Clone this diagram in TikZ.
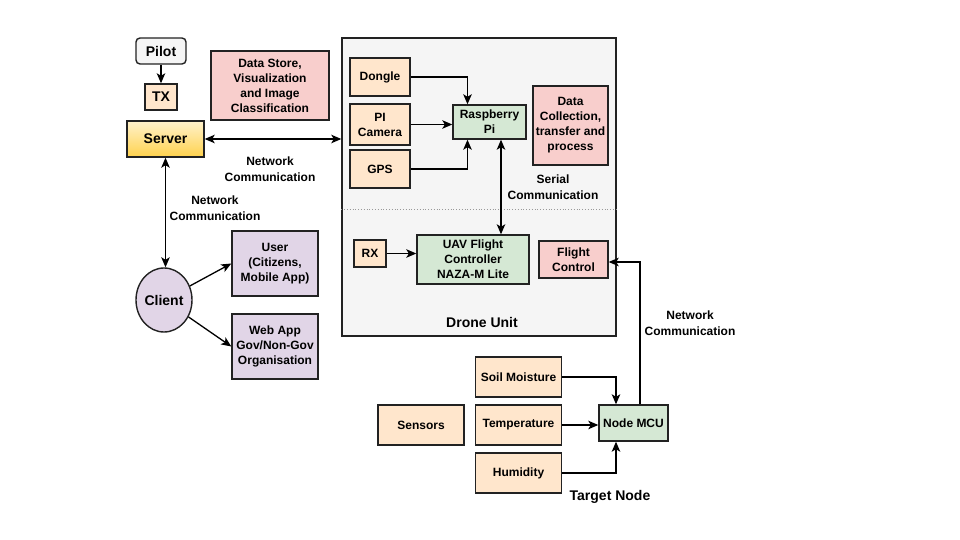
\documentclass[tikz,border=0pt]{standalone}
\usepackage{fontspec}
\setmainfont{Liberation Sans}
\usetikzlibrary{arrows,arrows.meta,shapes,calc}
\definecolor{peach}{HTML}{FFE6CC}
\definecolor{rose}{HTML}{F8CECC}
\definecolor{mint}{HTML}{D5E8D4}
\definecolor{lilac}{HTML}{E1D5E7}
\definecolor{paper}{HTML}{F5F5F5}
\definecolor{cream}{HTML}{FFF2CC}
\definecolor{butter}{HTML}{FFD24D}
\definecolor{ink}{HTML}{222222}
\tikzstyle{block}=[draw=ink,line width=1.4pt,align=center,inner sep=1pt,font=\fontsize{12}{15}\selectfont\bfseries]
\tikzstyle{bigblock}=[block,font=\fontsize{14}{16}\selectfont\bfseries]
\tikzstyle{part}=[block,fill=peach]
\tikzstyle{task}=[block,fill=rose]
\tikzstyle{board}=[block,fill=mint]
\tikzstyle{party}=[block,fill=lilac]
\tikzstyle{edge}=[draw,line width=1.3pt,-{Stealth[length=10pt,width=8.5pt,inset=2.5pt]}]
\tikzstyle{twoway}=[draw,line width=1.3pt,{Stealth[length=10pt,width=8.5pt,inset=2.5pt]}-{Stealth[length=10pt,width=8.5pt,inset=2.5pt]}]
\tikzstyle{note}=[align=center,font=\fontsize{12}{16}\selectfont\bfseries]

\begin{document}
\begin{tikzpicture}[x=1pt,y=-1pt,auto]
    \useasboundingbox (0,0) rectangle (960,540);
    % Drone unit frame and its divider
    \node[draw=ink,fill=paper,line width=1.4pt,minimum width=274pt,minimum height=298pt,inner sep=0pt] (drone) at (479,187) {};
    \draw[black!40,dotted,line width=0.8pt] (drone.west |- 0,209) -- (drone.east |- 0,209);
    \node[note,font=\fontsize{14}{16}\selectfont\bfseries] (droneunit) at (482,322) {Drone Unit};

    % Ground side
    \node[bigblock,fill=paper,rounded corners=4pt,minimum width=50pt,minimum height=26pt] (Pilot) at (161,51) {Pilot};
    \node[bigblock,fill=peach,minimum width=32pt,minimum height=26pt] (TX) at (161,97) {TX};
    \node[bigblock,top color=cream,bottom color=butter,minimum width=77pt,minimum height=36pt] (Server) at (165.5,139) {Server};
    \node[task,minimum width=118pt,minimum height=69pt] (Store) at (270,85.5) {Data Store,\\Visualization\\and Image\\Classification};
    \node[bigblock,fill=lilac,ellipse,minimum width=56pt,minimum height=64pt,inner sep=0pt] (Client) at (164,300) {Client};
    \foreach \pos/\name/\text in {{(275,263.5)/User/{User\\(Citizens,\\Mobile App)}},{(275,346.5)/WebApp/{Web App\\Gov/Non-Gov\\Organisation}}}
        \node[party,minimum width=86pt,minimum height=65pt] (\name) at \pos {\text};

    % Drone side
    \foreach \pos/\name/\text/\high in {{(380,77)/Dongle/Dongle/38},{(380,124.5)/PiCam/PI\\Camera/41},{(380,169)/GPS/GPS/38}}
        \node[part,minimum width=60pt,minimum height=\high pt] (\name) at \pos {\text};
    \node[board,minimum width=73pt,minimum height=34pt] (RPi) at (489.5,122) {Raspberry\\Pi};
    \node[task,minimum width=75pt,minimum height=79pt] (Collect) at (570.5,125.5) {Data\\Collection,\\transfer and\\process};
    \node[part,minimum width=32pt,minimum height=27pt] (RX) at (370,253.5) {RX};
    \node[board,minimum width=112pt,minimum height=49pt] (UAV) at (473,259.5) {UAV Flight\\Controller\\NAZA-M Lite};
    \node[task,minimum width=69pt,minimum height=37pt] (Flight) at (573.5,259.5) {Flight\\Control};

    % Target node
    \foreach \pos/\name/\text in {{(518.5,377)/Soil/Soil Moisture},{(518.5,425)/Temp/Temperature},{(518.5,473)/Humid/Humidity},{(421,425)/Sensors/Sensors}}
        \node[part,minimum width=86pt,minimum height=40pt] (\name) at \pos {\text};
    \node[board,minimum width=69pt,minimum height=36pt] (MCU) at (633.5,423) {Node MCU};
    \node[note,font=\fontsize{14}{16}\selectfont\bfseries] (target) at (610,497) {Target Node};

    % Connection points
    \coordinate (piin) at ($(RPi.north)+(-22,0)$);
    \coordinate (piinb) at ($(RPi.south)+(-22,0)$);
    \coordinate (serialtop) at ($(RPi.south)+(11.5,0)$);
    \coordinate (mcuout) at ($(MCU.north)+(6.5,0)$);
    \coordinate (flightin) at ($(Flight.east)+(0,2.5)$);
    \coordinate (mcuin) at ($(MCU.north)+(-17.5,0)$);
    \coordinate (mcuinb) at ($(MCU.south)+(-17.5,0)$);

    % Connect the blocks
    \path[edge] (Pilot) -- (TX);
    \path[twoway] (Server.east) -- (Server.east -| drone.west);
    \path[twoway] (Server.south) -- (Server.south |- Client.north);
    \foreach \dest in {User,WebApp}
        \path[edge] (Client) -- (\dest.west);
    \path[edge] (Dongle.east) -| (piin);
    \path[edge] (PiCam.east) -- (RPi.west |- PiCam.east);
    \path[edge] (GPS.east) -| (piinb);
    \path[twoway] (serialtop) -- (serialtop |- UAV.north);
    \path[edge] (RX.east) -- (UAV.west |- RX.east);
    \path[edge] (mcuout) |- (flightin);
    \path[edge] (Soil.east) -| (mcuin);
    \path[edge] (Temp.east) -- (MCU.west |- Temp.east);
    \path[edge] (Humid.east) -| (mcuinb);

    % Link labels
    \node[note] (netA) at (270,169) {Network\\Communication};
    \node[note] (netB) at (215,208) {Network\\Communication};
    \node[note] (serial) at (553,187) {Serial\\Communication};
    \node[note] (netC) at (690,323) {Network\\Communication};
\end{tikzpicture}
\end{document}
